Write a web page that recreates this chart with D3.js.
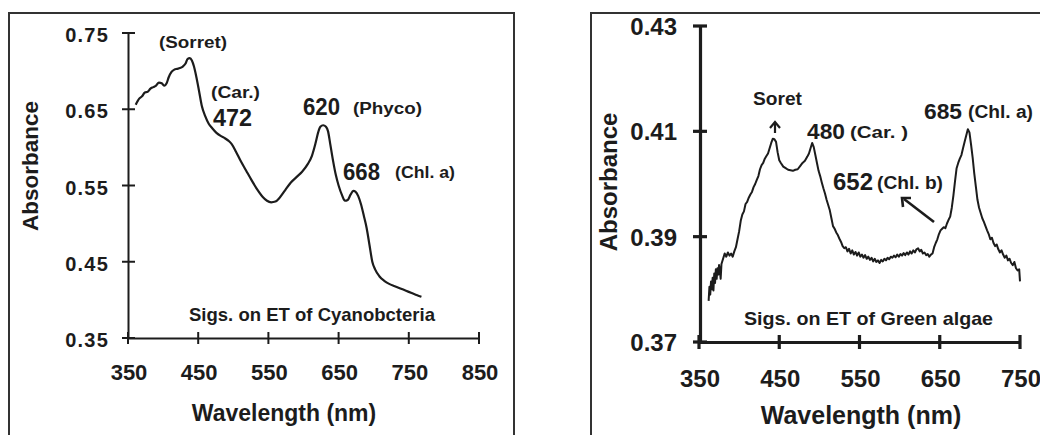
<!DOCTYPE html>
<html><head><meta charset="utf-8">
<script src="https://cdn.jsdelivr.net/npm/d3@7/dist/d3.min.js"></script>
<style>
html,body{margin:0;padding:0;background:#fff;}
svg{display:block;font-family:"Liberation Sans",Arial,sans-serif;font-weight:bold;}
</style></head><body>
<svg id="c" width="1040" height="435"></svg>
<script>
// ---- Data: Cyanobacteria (left panel)
const cyanoWl = [361,366,370,374,378,382,386,390,394,398,402,405,408,412,416,420,424,428,432,435,438,441,444,447,451,455,460,465,470,476,482,488,494,498,504,510,518,526,534,542,548,554,560,566,574,582,590,598,606,612,617,621,624,628,632,635,638,642,646,650,655,659,663,667,671,674,678,682,686,690,694,698,702,708,715,722,730,738,746,754,762,768];
const cyanoAbs = [0.656,0.664,0.667,0.672,0.673,0.677,0.679,0.681,0.685,0.684,0.681,0.684,0.692,0.699,0.702,0.703,0.704,0.706,0.710,0.716,0.717,0.714,0.706,0.694,0.675,0.655,0.641,0.631,0.625,0.619,0.615,0.612,0.608,0.604,0.594,0.583,0.570,0.557,0.545,0.535,0.530,0.528,0.529,0.534,0.544,0.554,0.561,0.568,0.578,0.589,0.605,0.620,0.627,0.629,0.627,0.621,0.605,0.583,0.564,0.550,0.537,0.530,0.531,0.538,0.543,0.542,0.536,0.525,0.510,0.494,0.472,0.450,0.440,0.431,0.425,0.421,0.418,0.415,0.412,0.409,0.406,0.404];
const cyanoXTicks = [350,450,550,650,750,850];
const cyanoYTicks = [0.35,0.45,0.55,0.65,0.75];
const cyanoYTickLabels = ["0.35","0.45","0.55","0.65","0.75"];

// ---- Data: Green algae (right panel)
const greenWl = [362,363,364,365,366,367,368,369,370,371,372,373,374,375,376,377,378,380,382,384,386,388,390,392,394,396,398,400,402,404,406,408,410,412,414,416,418,420,422,424,426,428,430,432,434,436,438,440,442,444,446,448,450,452,455,458,461,464,467,470,473,476,479,482,485,487,489,491,493,495,497,499,501,503,505,507,509,511,513,515,517,519,521,523,525,527,529,531,533,535,537,539,541,543,545,547,549,551,553,555,557,559,561,563,565,567,569,571,573,575,577,579,581,583,585,587,589,591,593,595,597,599,601,603,605,607,609,611,613,615,617,619,621,623,625,627,629,631,633,635,637,639,641,643,645,647,649,651,653,655,657,659,661,663,665,667,669,671,673,675,677,679,681,683,685,687,689,691,693,695,697,699,701,703,705,707,709,711,713,715,717,719,721,723,725,727,729,731,733,735,737,739,741,743,745,747,749,750];
const greenAbs = [0.3778,0.3805,0.3790,0.3815,0.3800,0.3822,0.3798,0.3830,0.3812,0.3838,0.3820,0.3840,0.3828,0.3846,0.3836,0.3820,0.3848,0.3858,0.3868,0.3862,0.3870,0.3864,0.3868,0.3862,0.3872,0.3880,0.3895,0.3910,0.3930,0.3942,0.3948,0.3962,0.3966,0.3974,0.3980,0.3985,0.3994,0.4000,0.4008,0.4015,0.4028,0.4036,0.4040,0.4048,0.4053,0.4058,0.4068,0.4078,0.4086,0.4085,0.4080,0.4060,0.4045,0.4040,0.4033,0.4030,0.4027,0.4026,0.4025,0.4027,0.4028,0.4034,0.4040,0.4044,0.4052,0.4058,0.4068,0.4078,0.4070,0.4055,0.4040,0.4025,0.4015,0.4003,0.3992,0.3982,0.3970,0.3960,0.3950,0.3935,0.3920,0.3915,0.3908,0.3903,0.3896,0.3890,0.3882,0.3878,0.3880,0.3872,0.3877,0.3868,0.3874,0.3866,0.3871,0.3864,0.3870,0.3862,0.3866,0.3860,0.3865,0.3858,0.3862,0.3856,0.3860,0.3853,0.3858,0.3852,0.3855,0.3850,0.3856,0.3853,0.3858,0.3855,0.3860,0.3857,0.3862,0.3860,0.3864,0.3861,0.3866,0.3862,0.3867,0.3864,0.3869,0.3865,0.3870,0.3866,0.3872,0.3868,0.3874,0.3870,0.3876,0.3878,0.3872,0.3875,0.3868,0.3870,0.3865,0.3867,0.3862,0.3866,0.3868,0.3880,0.3888,0.3895,0.3905,0.3912,0.3915,0.3918,0.3916,0.3925,0.3932,0.3938,0.3955,0.3978,0.4005,0.4030,0.4040,0.4048,0.4055,0.4068,0.4080,0.4092,0.4104,0.4098,0.4075,0.4050,0.4020,0.3995,0.3970,0.3955,0.3945,0.3935,0.3928,0.3920,0.3912,0.3905,0.3895,0.3898,0.3888,0.3882,0.3885,0.3876,0.3870,0.3874,0.3866,0.3860,0.3864,0.3855,0.3858,0.3850,0.3846,0.3852,0.3840,0.3836,0.3838,0.3815];
const greenXTicks = [350,450,550,650,750];
const greenYTicks = [0.37,0.39,0.41,0.43];
const greenYTickLabels = ["0.37","0.39","0.41","0.43"];

const svg = d3.select("#c");
const ink = "#1c1c1c";

// ================= LEFT PANEL =================
svg.append("rect").attr("x",9).attr("y",13).attr("width",505).attr("height",440)
  .attr("fill","none").attr("stroke","#333").attr("stroke-width",2);

const xL = d3.scaleLinear().domain([350,850]).range([128,479]);
const yL = d3.scaleLinear().domain([0.35,0.75]).range([338,33]);

const gL = svg.append("g");
const axL = gL.append("g").attr("transform","translate(0,338)")
  .call(d3.axisBottom(xL).tickValues(cyanoXTicks).tickSize(0).tickFormat(""));
axL.select(".domain").attr("stroke",ink).attr("stroke-width",2);
const ayL = gL.append("g").attr("transform","translate(128,0)")
  .call(d3.axisLeft(yL).tickValues(cyanoYTicks).tickSize(0).tickFormat(""));
ayL.select(".domain").attr("stroke",ink).attr("stroke-width",2);
// ticks crossing the axes
gL.selectAll(".xt").data(cyanoXTicks).join("line")
  .attr("x1",d=>xL(d)).attr("x2",d=>xL(d)).attr("y1",332).attr("y2",344)
  .attr("stroke",ink).attr("stroke-width",2);
gL.selectAll(".yt").data(cyanoYTicks).join("line")
  .attr("y1",d=>yL(d)).attr("y2",d=>yL(d)).attr("x1",122).attr("x2",135)
  .attr("stroke",ink).attr("stroke-width",2);
gL.selectAll(".xl").data(cyanoXTicks).join("text")
  .attr("x",d=>xL(d)+1).attr("y",380).attr("text-anchor","middle")
  .attr("font-size",22).attr("fill",ink).text(d=>d);
gL.selectAll(".yl").data(cyanoYTicks).join("text")
  .attr("x",109).attr("y",d=>yL(d)+9).attr("text-anchor","end")
  .attr("font-size",20).attr("letter-spacing",1.2).attr("fill",ink)
  .text((d,i)=>cyanoYTickLabels[i]);
gL.append("text").attr("x",284).attr("y",421).attr("text-anchor","middle")
  .attr("font-size",23).attr("fill",ink).text("Wavelength (nm)");
gL.append("text").attr("transform","translate(38,166) rotate(-90)").attr("text-anchor","middle")
  .attr("font-size",22.5).attr("fill",ink).text("Absorbance");

const lineL = d3.line().x((d,i)=>xL(cyanoWl[i])).y(d=>yL(d)).curve(d3.curveMonotoneX);
gL.append("path").datum(cyanoAbs).attr("d",lineL).attr("fill","none")
  .attr("stroke",ink).attr("stroke-width",2.2).attr("stroke-linejoin","round");

function label(g,x,y,size,txt,len){
  const t=g.append("text").attr("x",x).attr("y",y).attr("font-size",size).attr("fill",ink).text(txt);
  if(len) t.attr("textLength",len).attr("lengthAdjust","spacingAndGlyphs");
  return t;
}
label(gL,159,48,16,"(Sorret)",68);
label(gL,211,98,16,"(Car.)",49);
label(gL,213,126,23,"472",39);
label(gL,303,115,23,"620",37);
label(gL,353,114,16,"(Phyco)",69);
label(gL,343,180,23,"668",37);
label(gL,395,178,16,"(Chl. a)",60);
label(gL,189,321,18.5,"Sigs. on ET of Cyanobcteria",246);

// ================= RIGHT PANEL =================
svg.append("rect").attr("x",591).attr("y",13).attr("width",500).attr("height",440)
  .attr("fill","none").attr("stroke","#333").attr("stroke-width",2);

const xR = d3.scaleLinear().domain([350,750]).range([699,1020]);
const yR = d3.scaleLinear().domain([0.37,0.43]).range([342,26]);
const gR = svg.append("g");
const axR = gR.append("g").attr("transform","translate(0,342)")
  .call(d3.axisBottom(xR).tickValues(greenXTicks).tickSize(0).tickFormat(""));
axR.select(".domain").attr("stroke",ink).attr("stroke-width",3.2);
const ayR = gR.append("g").attr("transform","translate(700,0)")
  .call(d3.axisLeft(yR).tickValues(greenYTicks).tickSize(0).tickFormat(""));
ayR.select(".domain").attr("stroke",ink).attr("stroke-width",3.2);
gR.selectAll(".xt").data(greenXTicks).join("line")
  .attr("x1",d=>xR(d)).attr("x2",d=>xR(d)).attr("y1",335).attr("y2",349)
  .attr("stroke",ink).attr("stroke-width",3.2);
gR.selectAll(".yt").data(greenYTicks).join("line")
  .attr("y1",d=>yR(d)).attr("y2",d=>yR(d)).attr("x1",693).attr("x2",707)
  .attr("stroke",ink).attr("stroke-width",3.2);
gR.selectAll(".xl").data(greenXTicks).join("text")
  .attr("x",d=>xR(d)+1).attr("y",387).attr("text-anchor","middle")
  .attr("font-size",24).attr("fill",ink).text(d=>d);
gR.selectAll(".yl").data(greenYTicks).join("text")
  .attr("x",677).attr("y",d=>yR(d)+9).attr("text-anchor","end")
  .attr("font-size",24).attr("fill",ink).text((d,i)=>greenYTickLabels[i]);
gR.append("text").attr("x",861).attr("y",424).attr("text-anchor","middle")
  .attr("font-size",25).attr("fill",ink).text("Wavelength (nm)");
gR.append("text").attr("transform","translate(617,182) rotate(-90)").attr("text-anchor","middle")
  .attr("font-size",24).attr("fill",ink).text("Absorbance");

const lineR = d3.line().x((d,i)=>xR(greenWl[i])).y(d=>yR(d));
gR.append("path").datum(greenAbs).attr("d",lineR).attr("fill","none")
  .attr("stroke",ink).attr("stroke-width",2).attr("stroke-linejoin","round");

label(gR,753,105,19,"Soret",49);
label(gR,807,139,22,"480",38);
label(gR,850,138,17,"(Car. )",58);
label(gR,924,119,22,"685",38);
label(gR,968,118,18,"(Chl. a)",65);
label(gR,833,190,23,"652",40);
label(gR,877,189,18,"(Chl. b)",66);
label(gR,744,325,18.5,"Sigs. on ET of Green algae",249);

// arrows
gR.append("line").attr("x1",775).attr("y1",133).attr("x2",775).attr("y2",123)
  .attr("stroke",ink).attr("stroke-width",2.2);
gR.append("path").attr("d","M770,128 L775,122 L780,128").attr("fill","none")
  .attr("stroke",ink).attr("stroke-width",2.2);
gR.append("line").attr("x1",934).attr("y1",222).attr("x2",904).attr("y2",199)
  .attr("stroke",ink).attr("stroke-width",2.6);
gR.append("path").attr("d","M903,207 L902,198 L911,198").attr("fill","none")
  .attr("stroke",ink).attr("stroke-width",2.6);
</script></body></html>
